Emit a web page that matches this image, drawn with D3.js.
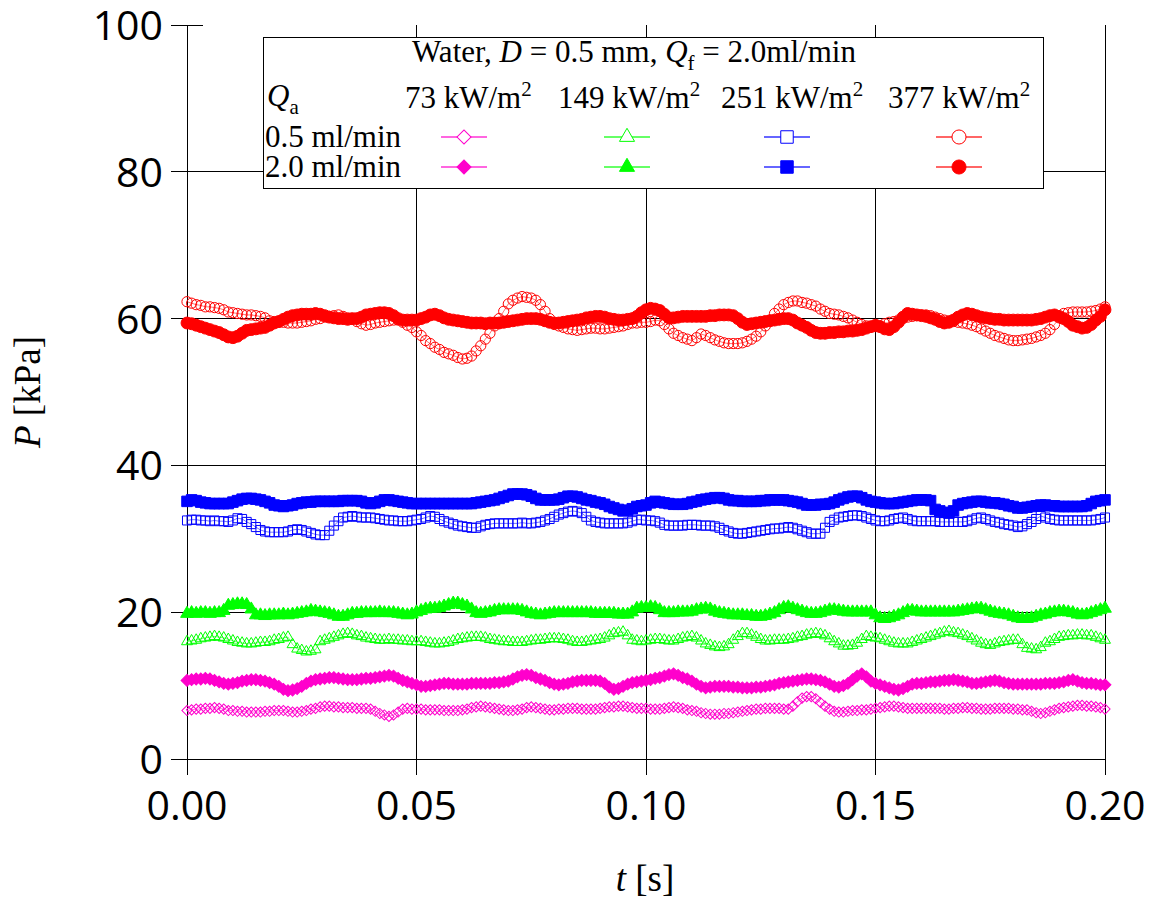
<!DOCTYPE html>
<html>
<head>
<meta charset="utf-8">
<script src="https://cdn.jsdelivr.net/npm/d3@7"></script>
<style>
    body { margin: 0; background: #fff; }
    .tickLabel { font-family: "Open Sans", sans-serif; font-size: 41px; fill: #000; }
    .axisTitle { font-family: "Liberation Serif", "Times New Roman", serif; font-size: 37px; fill: #000; }
    .legendText { font-family: "Liberation Serif", "Times New Roman", serif; font-size: 31px; fill: #000; }
    .grid { stroke: #000; stroke-width: 1; shape-rendering: crispEdges; }
</style>
</head>
<body>
<script>
//sampling interval of every series [s]
var timeStep = 0.001;

//tick values and legend texts
var xTicks = [0, 0.05, 0.10, 0.15, 0.20];
var yTicks = [0, 20, 40, 60, 80, 100];
var heatFluxLabels = ["73", "149", "251", "377"];
var flowLabels = ["0.5 ml/min", "2.0 ml/min"];

//pressure P [kPa], Qa = 0.5 ml/min, 73 kW/m2
var m05 = [
    6.6, 6.7, 6.8, 6.8, 6.9, 6.9, 7.0, 6.9, 6.8, 6.6,
    6.6, 6.5, 6.5, 6.4, 6.4, 6.4, 6.4, 6.5, 6.5, 6.6,
    6.6, 6.6, 6.5, 6.4, 6.4, 6.5, 6.6, 6.8, 6.9, 7.1,
    7.2, 7.2, 7.1, 7.1, 7.0, 7.0, 7.0, 6.9, 6.9, 6.9,
    6.8, 6.5, 6.2, 6.0, 5.8, 6.0, 6.4, 6.8, 6.9, 6.8,
    6.8, 6.8, 6.7, 6.7, 6.7, 6.7, 6.6, 6.6, 6.6, 6.6,
    6.7, 6.8, 7.0, 7.1, 7.2, 7.1, 7.0, 6.9, 6.8, 6.7,
    6.6, 6.6, 6.7, 6.8, 7.0, 7.1, 7.0, 6.9, 6.8, 6.7,
    6.7, 6.8, 6.8, 6.9, 6.9, 6.9, 6.8, 6.8, 6.8, 6.8,
    6.9, 7.0, 7.1, 7.1, 7.2, 7.2, 7.1, 7.0, 6.9, 6.9,
    6.9, 6.8, 6.8, 6.8, 6.9, 7.0, 7.1, 7.0, 6.9, 6.7,
    6.6, 6.5, 6.3, 6.2, 6.1, 6.1, 6.1, 6.2, 6.2, 6.3,
    6.4, 6.5, 6.6, 6.7, 6.8, 6.8, 6.9, 6.9, 6.9, 6.9,
    6.8, 6.8, 7.2, 7.8, 8.3, 8.5, 8.5, 8.2, 7.7, 7.2,
    6.8, 6.5, 6.4, 6.4, 6.5, 6.6, 6.6, 6.7, 6.7, 6.8,
    6.9, 7.0, 7.1, 7.2, 7.2, 7.1, 7.0, 6.9, 6.9, 6.9,
    6.9, 6.9, 6.9, 6.9, 6.9, 6.8, 6.8, 6.9, 6.9, 7.0,
    7.0, 6.9, 6.9, 6.8, 6.8, 6.8, 6.9, 6.9, 6.9, 6.9,
    6.8, 6.8, 6.7, 6.7, 6.5, 6.3, 6.2, 6.3, 6.5, 6.7,
    6.9, 7.0, 7.1, 7.2, 7.3, 7.3, 7.2, 7.2, 7.1, 7.0,
    6.8
];

//Qa = 2.0 ml/min, 73 kW/m2
var m20 = [
    10.7, 10.8, 10.9, 10.9, 11.0, 10.9, 10.7, 10.5, 10.3, 10.2,
    10.3, 10.4, 10.6, 10.7, 10.8, 10.8, 10.7, 10.6, 10.4, 10.2,
    9.9, 9.5, 9.3, 9.4, 9.6, 9.9, 10.3, 10.6, 10.8, 10.9,
    11.0, 11.1, 11.1, 11.0, 10.9, 10.8, 10.8, 10.8, 10.9, 11.0,
    11.0, 11.1, 11.2, 11.3, 11.4, 11.3, 11.0, 10.7, 10.5, 10.3,
    10.1, 9.9, 9.9, 10.0, 10.1, 10.2, 10.3, 10.3, 10.2, 10.2,
    10.2, 10.2, 10.3, 10.3, 10.3, 10.3, 10.3, 10.4, 10.4, 10.5,
    10.6, 10.9, 11.2, 11.4, 11.5, 11.4, 11.1, 10.9, 10.7, 10.4,
    10.2, 10.1, 10.2, 10.3, 10.5, 10.6, 10.7, 10.7, 10.7, 10.7,
    10.6, 10.3, 9.8, 9.5, 9.6, 9.9, 10.2, 10.4, 10.5, 10.6,
    10.7, 10.8, 11.0, 11.1, 11.3, 11.5, 11.6, 11.4, 11.1, 10.9,
    10.6, 10.2, 9.9, 9.7, 9.8, 9.9, 9.9, 9.9, 9.9, 9.8,
    9.8, 9.7, 9.7, 9.7, 9.8, 9.8, 9.9, 10.0, 10.1, 10.3,
    10.4, 10.5, 10.6, 10.7, 10.8, 10.9, 10.9, 10.8, 10.7, 10.5,
    10.2, 9.9, 9.8, 10.0, 10.3, 10.8, 11.3, 11.6, 11.2, 10.6,
    10.3, 10.1, 9.9, 9.7, 9.5, 9.4, 9.6, 9.9, 10.2, 10.3,
    10.3, 10.4, 10.5, 10.5, 10.6, 10.7, 10.7, 10.8, 10.7, 10.6,
    10.5, 10.3, 10.3, 10.4, 10.5, 10.6, 10.7, 10.6, 10.4, 10.3,
    10.2, 10.2, 10.2, 10.2, 10.2, 10.2, 10.2, 10.3, 10.3, 10.3,
    10.4, 10.5, 10.7, 10.8, 10.6, 10.4, 10.3, 10.3, 10.2, 10.1,
    10.1
];

//Qa = 0.5 ml/min, 149 kW/m2
var g05 = [
    16.0, 16.1, 16.2, 16.4, 16.5, 16.6, 16.7, 16.6, 16.5, 16.3,
    16.1, 15.9, 15.8, 15.7, 15.7, 15.8, 15.9, 15.9, 16.0, 16.2,
    16.3, 16.5, 16.6, 15.6, 15.0, 14.8, 14.6, 14.7, 14.9, 16.0,
    16.2, 16.4, 16.6, 16.8, 17.0, 17.1, 17.0, 16.8, 16.7, 16.5,
    16.4, 16.3, 16.2, 16.2, 16.3, 16.2, 16.2, 16.1, 16.1, 16.0,
    16.0, 16.0, 15.9, 15.8, 15.7, 15.7, 15.8, 15.9, 16.1, 16.3,
    16.4, 16.5, 16.6, 16.6, 16.6, 16.5, 16.3, 16.2, 16.1, 16.0,
    16.0, 15.9, 15.9, 15.9, 16.0, 16.1, 16.2, 16.2, 16.3, 16.4,
    16.4, 16.4, 16.3, 16.2, 16.0, 15.9, 15.9, 16.0, 16.1, 16.2,
    16.3, 16.5, 16.8, 17.1, 17.2, 17.3, 16.8, 16.2, 16.1, 16.0,
    16.1, 16.2, 16.3, 16.3, 16.2, 16.1, 16.1, 16.3, 16.5, 16.6,
    16.7, 16.5, 16.1, 15.7, 15.5, 15.3, 15.2, 15.3, 15.6, 16.2,
    16.7, 17.1, 17.1, 16.9, 16.6, 16.3, 16.1, 16.1, 16.2, 16.2,
    16.2, 16.3, 16.4, 16.6, 16.7, 16.9, 17.0, 17.1, 17.0, 16.8,
    16.4, 16.0, 15.7, 15.4, 15.4, 15.5, 15.8, 16.3, 16.7, 16.6,
    16.5, 16.4, 16.2, 16.0, 15.8, 15.7, 15.7, 15.7, 15.9, 16.1,
    16.3, 16.5, 16.7, 16.9, 17.1, 17.3, 17.4, 17.2, 17.1, 16.9,
    16.7, 16.4, 16.1, 15.8, 15.6, 15.5, 15.7, 15.9, 16.0, 16.1,
    16.2, 16.2, 15.6, 15.1, 15.0, 14.9, 15.2, 15.8, 16.0, 16.3,
    16.6, 16.7, 16.8, 16.8, 16.9, 16.9, 16.8, 16.8, 16.6, 16.4,
    16.2
];

//Qa = 2.0 ml/min, 149 kW/m2
var g20 = [
    19.8, 19.9, 19.8, 19.9, 19.9, 19.8, 19.9, 19.9, 20.2, 20.9,
    21.0, 21.1, 21.1, 21.0, 20.4, 19.6, 19.6, 19.5, 19.6, 19.6,
    19.6, 19.7, 19.6, 19.7, 19.8, 19.9, 20.0, 20.2, 20.1, 20.0,
    19.9, 19.8, 19.6, 19.4, 19.4, 19.6, 19.8, 19.8, 19.9, 19.9,
    19.9, 19.9, 20.0, 19.9, 19.9, 19.9, 19.8, 19.7, 19.6, 19.7,
    20.0, 20.2, 20.4, 20.5, 20.5, 20.6, 20.8, 21.0, 21.2, 21.2,
    21.0, 20.8, 20.4, 19.9, 19.8, 19.9, 20.0, 20.2, 20.3, 20.3,
    20.3, 20.3, 20.3, 20.2, 20.0, 19.8, 19.7, 19.6, 19.7, 19.8,
    19.9, 19.9, 19.9, 19.9, 19.9, 19.9, 19.9, 19.9, 19.9, 19.8,
    19.8, 19.8, 19.8, 19.8, 19.7, 19.7, 19.7, 20.0, 20.5, 20.6,
    20.6, 20.7, 20.6, 20.3, 19.9, 19.9, 19.9, 20.0, 20.0, 20.0,
    20.1, 20.3, 20.4, 20.5, 20.4, 20.1, 19.9, 19.8, 19.7, 19.6,
    19.6, 19.6, 19.5, 19.5, 19.4, 19.4, 19.5, 19.7, 19.9, 20.3,
    20.6, 20.7, 20.5, 20.3, 20.1, 19.9, 19.8, 19.8, 19.9, 20.1,
    20.3, 20.3, 20.2, 20.1, 20.0, 20.0, 20.0, 20.0, 20.0, 20.0,
    19.6, 19.2, 19.1, 19.2, 19.4, 19.6, 19.9, 20.2, 20.2, 20.1,
    20.0, 20.0, 20.0, 20.0, 20.0, 20.0, 20.0, 20.0, 20.1, 20.2,
    20.3, 20.4, 20.5, 20.5, 20.3, 20.1, 19.9, 19.8, 19.7, 19.6,
    19.4, 19.2, 19.1, 19.1, 19.2, 19.4, 19.6, 19.7, 19.9, 20.0,
    20.1, 20.1, 20.0, 19.9, 19.7, 19.6, 19.7, 19.9, 20.1, 20.3,
    20.5
];

//Qa = 0.5 ml/min, 251 kW/m2
var b05 = [
    32.5, 32.6, 32.6, 32.5, 32.5, 32.4, 32.5, 32.4, 32.4, 32.3,
    32.5, 32.8, 32.7, 32.3, 32.0, 31.6, 31.2, 31.0, 30.9, 30.9,
    30.9, 30.9, 31.0, 31.2, 31.3, 31.2, 31.0, 30.8, 30.6, 30.5,
    30.5, 31.1, 31.8, 32.4, 32.9, 33.0, 33.1, 33.0, 32.9, 32.9,
    32.9, 32.8, 32.7, 32.6, 32.5, 32.5, 32.4, 32.4, 32.4, 32.5,
    32.6, 32.7, 32.9, 33.1, 33.0, 32.7, 32.4, 32.2, 32.0, 31.8,
    31.7, 31.6, 31.5, 31.5, 31.7, 31.9, 32.0, 32.1, 32.1, 32.1,
    32.1, 32.1, 32.1, 32.2, 32.1, 32.1, 32.2, 32.3, 32.5, 32.7,
    33.0, 33.3, 33.5, 33.7, 33.8, 33.7, 33.5, 33.0, 32.5, 32.3,
    32.2, 32.1, 32.1, 32.1, 32.1, 32.1, 32.2, 32.4, 32.6, 32.6,
    32.5, 32.5, 32.4, 32.2, 31.9, 31.8, 31.8, 31.8, 31.8, 31.9,
    31.9, 31.9, 31.8, 31.8, 31.8, 31.7, 31.5, 31.2, 31.0, 30.8,
    30.7, 30.7, 30.8, 30.9, 31.0, 31.1, 31.2, 31.3, 31.4, 31.4,
    31.5, 31.6, 31.5, 31.3, 31.1, 30.9, 30.7, 30.7, 30.7, 31.5,
    32.3, 32.6, 32.9, 33.0, 33.1, 33.2, 33.2, 33.1, 32.9, 32.7,
    32.5, 32.4, 32.4, 32.5, 32.7, 32.8, 32.9, 32.7, 32.5, 32.4,
    32.4, 32.4, 32.4, 32.4, 32.3, 32.3, 32.3, 32.3, 32.3, 32.3,
    32.4, 32.6, 32.8, 32.9, 32.7, 32.5, 32.3, 32.2, 32.0, 31.9,
    31.8, 31.6, 31.7, 32.0, 32.3, 32.7, 33.1, 32.9, 32.7, 32.6,
    32.5, 32.5, 32.5, 32.5, 32.5, 32.5, 32.5, 32.5, 32.6, 32.7,
    32.9
];

//Qa = 2.0 ml/min, 251 kW/m2
var b20 = [
    35.1, 35.3, 35.2, 35.0, 34.9, 34.8, 34.8, 34.8, 34.8, 34.8,
    35.0, 35.2, 35.4, 35.5, 35.5, 35.4, 35.3, 35.1, 34.9, 34.6,
    34.5, 34.4, 34.5, 34.6, 34.8, 34.9, 35.0, 35.0, 35.1, 35.1,
    35.1, 35.1, 35.1, 35.1, 35.2, 35.2, 35.2, 35.2, 35.1, 34.9,
    34.8, 34.9, 35.1, 35.3, 35.3, 35.2, 35.1, 35.0, 34.9, 34.8,
    34.8, 34.8, 34.8, 34.8, 34.8, 34.8, 34.8, 34.8, 34.8, 34.8,
    34.8, 34.8, 34.8, 34.9, 35.0, 35.1, 35.2, 35.3, 35.5, 35.7,
    35.9, 36.1, 36.1, 36.1, 36.0, 35.8, 35.5, 35.3, 35.3, 35.3,
    35.3, 35.4, 35.6, 35.8, 35.8, 35.7, 35.5, 35.3, 35.2, 35.0,
    34.9, 34.7, 34.4, 34.2, 34.0, 33.8, 33.9, 34.1, 34.4, 34.5,
    34.6, 34.9, 35.1, 35.0, 34.9, 34.8, 34.7, 34.7, 34.7, 34.8,
    35.0, 35.1, 35.3, 35.4, 35.5, 35.6, 35.6, 35.5, 35.3, 35.2,
    35.2, 35.1, 35.1, 35.1, 35.1, 35.2, 35.2, 35.3, 35.3, 35.3,
    35.3, 35.2, 35.1, 35.0, 34.8, 34.6, 34.6, 34.6, 34.7, 34.7,
    34.8, 35.0, 35.3, 35.5, 35.7, 35.8, 35.8, 35.6, 35.3, 35.1,
    35.0, 34.9, 34.8, 34.8, 34.8, 34.9, 35.0, 35.1, 35.2, 35.3,
    35.3, 35.3, 35.2, 34.0, 33.8, 33.6, 33.5, 33.8, 34.6, 34.8,
    34.9, 35.0, 35.1, 35.1, 35.0, 34.9, 34.9, 34.8, 34.7, 34.5,
    34.4, 34.2, 34.2, 34.3, 34.4, 34.5, 34.6, 34.6, 34.5, 34.5,
    34.4, 34.4, 34.4, 34.4, 34.4, 34.4, 34.5, 34.8, 35.1, 35.2,
    35.3
];

//Qa = 0.5 ml/min, 377 kW/m2
var r05 = [
    62.3, 62.1, 61.9, 61.8, 61.6, 61.6, 61.5, 61.4, 61.2, 60.9,
    60.8, 60.7, 60.6, 60.5, 60.5, 60.4, 60.3, 60.1, 59.7, 59.6,
    59.5, 59.5, 59.4, 59.4, 59.4, 59.5, 59.6, 59.7, 59.9, 60.0,
    60.2, 60.3, 60.4, 60.5, 60.3, 60.1, 59.9, 59.6, 59.3, 59.1,
    59.2, 59.4, 59.5, 59.6, 59.7, 59.8, 59.8, 59.5, 59.1, 58.8,
    58.2, 57.7, 57.0, 56.6, 56.1, 55.8, 55.4, 55.2, 55.0, 54.7,
    54.5, 54.6, 54.9, 55.6, 56.3, 57.2, 58.0, 59.0, 60.0, 61.0,
    62.0, 62.5, 62.8, 63.0, 62.9, 62.8, 62.5, 61.9, 61.0, 60.0,
    59.2, 59.0, 58.8, 58.6, 58.5, 58.4, 58.5, 58.6, 58.7, 58.7,
    58.6, 58.6, 58.7, 58.8, 58.9, 59.0, 59.2, 59.4, 59.4, 59.5,
    59.5, 59.6, 59.8, 59.7, 59.2, 58.6, 58.0, 57.7, 57.4, 57.2,
    57.0, 57.4, 57.9, 57.7, 57.4, 57.1, 56.9, 56.7, 56.6, 56.6,
    56.6, 56.7, 56.9, 57.2, 57.6, 58.2, 59.0, 59.8, 60.7, 61.3,
    61.9, 62.2, 62.4, 62.4, 62.2, 62.1, 61.9, 61.7, 61.3, 61.0,
    60.7, 60.6, 60.5, 60.3, 60.1, 59.8, 59.5, 59.2, 59.0, 58.9,
    58.9, 59.0, 59.3, 59.5, 59.6, 59.8, 60.0, 60.2, 60.3, 60.4,
    60.5, 60.5, 60.4, 60.2, 60.0, 59.8, 59.7, 59.6, 59.5, 59.4,
    59.3, 59.1, 58.9, 58.6, 58.3, 58.0, 57.7, 57.5, 57.3, 57.1,
    57.0, 57.0, 57.1, 57.2, 57.3, 57.5, 57.7, 58.0, 58.5, 59.2,
    60.1, 60.7, 60.8, 60.9, 60.9, 60.9, 60.9, 61.0, 61.1, 61.3,
    61.6
];

//Qa = 2.0 ml/min, 377 kW/m2
var r20 = [
    59.4, 59.3, 59.1, 58.9, 58.7, 58.5, 58.3, 58.1, 57.8, 57.5,
    57.4, 57.6, 58.0, 58.4, 58.5, 58.6, 58.7, 58.8, 59.1, 59.4,
    59.6, 59.9, 60.2, 60.4, 60.5, 60.6, 60.6, 60.6, 60.7, 60.6,
    60.4, 60.2, 60.1, 60.0, 60.0, 59.9, 60.0, 60.0, 60.2, 60.5,
    60.6, 60.7, 60.8, 60.8, 60.7, 60.4, 60.0, 59.8, 59.8, 59.8,
    59.8, 60.0, 60.2, 60.5, 60.6, 60.4, 60.1, 59.9, 59.8, 59.7,
    59.6, 59.5, 59.4, 59.4, 59.4, 59.3, 59.4, 59.4, 59.4, 59.5,
    59.6, 59.7, 59.8, 59.9, 60.0, 60.0, 60.0, 59.9, 59.7, 59.5,
    59.4, 59.4, 59.5, 59.6, 59.7, 59.8, 59.9, 60.1, 60.2, 60.3,
    60.3, 60.2, 60.0, 59.9, 59.8, 59.8, 59.9, 60.0, 60.3, 60.8,
    61.2, 61.4, 61.3, 61.1, 60.6, 60.1, 60.1, 60.2, 60.3, 60.3,
    60.3, 60.3, 60.3, 60.3, 60.4, 60.4, 60.5, 60.5, 60.5, 60.4,
    60.0, 59.5, 59.2, 59.3, 59.4, 59.5, 59.6, 59.7, 59.8, 59.9,
    60.0, 60.0, 59.8, 59.4, 59.1, 58.8, 58.4, 58.1, 58.0, 58.0,
    58.1, 58.1, 58.2, 58.2, 58.3, 58.3, 58.4, 58.5, 58.7, 58.9,
    59.1, 58.9, 58.6, 58.5, 58.9, 59.5, 60.2, 60.7, 60.6, 60.5,
    60.4, 60.3, 60.1, 59.9, 59.6, 59.4, 59.5, 59.8, 60.2, 60.5,
    60.7, 60.6, 60.4, 60.2, 60.1, 60.0, 59.9, 59.9, 59.8, 59.8,
    59.8, 59.8, 59.8, 59.8, 59.8, 59.9, 60.0, 60.2, 60.4, 60.5,
    60.3, 60.0, 59.6, 59.1, 58.9, 58.7, 58.8, 59.2, 59.8, 60.3,
    61.2
];

(function(){

    //begin script when window loads
    window.onload = setChart();

    function setChart(){

        //frame and plot area
        var width = 1159,
            height = 902,
            plotLeft = 187,
            plotRight = 1105,
            plotTop = 25,
            plotBottom = 759,
            tickLen = 16;

        var svg = d3.select("body")
            .append("svg")
            .attr("width", width)
            .attr("height", height);

        var xScale = d3.scaleLinear()
            .domain([0, 0.2])
            .range([plotLeft, plotRight]);

        var yScale = d3.scaleLinear()
            .domain([0, 100])
            .range([plotBottom, plotTop]);

        //series: value array, colour, marker, open or filled
        var series = [
            { values: m05, color: "#ff00cc", shape: "diamond", filled: false },
            { values: m20, color: "#ff00cc", shape: "diamond", filled: true },
            { values: g05, color: "#00ff00", shape: "triangle", filled: false },
            { values: g20, color: "#00ff00", shape: "triangle", filled: true },
            { values: b05, color: "#0000ff", shape: "square", filled: false },
            { values: b20, color: "#0000ff", shape: "square", filled: true },
            { values: r20, color: "#ff0000", shape: "circle", filled: true },
            { values: r05, color: "#ff0000", shape: "circle", filled: false }
        ];

        drawGrid(svg, xScale, yScale, plotLeft, plotRight, tickLen);

        series.forEach(function(s){
            drawSeries(svg, s, xScale, yScale);
        });

        drawAxisText(svg, xScale, yScale, plotLeft);

        drawLegend(svg, series);
    };

    //marker path for one symbol type, k scales the area
    function markerPath(shape, filled, k){
        var boost = filled ? 1.35 : 1;
        var sizes = { diamond: 52, triangle: 52, square: 82, circle: 82 };
        var types = { diamond: d3.symbolSquare, triangle: d3.symbolTriangle,
                      square: d3.symbolSquare, circle: d3.symbolCircle };
        return d3.symbol()
            .type(types[shape])
            .size(sizes[shape] * boost * (k || 1))();
    };

    function markerTransform(shape, x, y){
        var t = "translate(" + x + "," + y + ")";
        if (shape == "diamond") t += " rotate(45)";
        return t;
    };

    function drawGrid(svg, xScale, yScale, plotLeft, plotRight, tickLen){
        //horizontal lines, the top one is only a tick
        svg.selectAll(".hGrid")
            .data(yTicks)
            .enter()
            .append("line")
            .attr("class", "grid hGrid")
            .attr("x1", plotLeft - tickLen)
            .attr("x2", function(d){
                return d == 100 ? plotLeft + tickLen : plotRight;
            })
            .attr("y1", function(d){ return yScale(d); })
            .attr("y2", function(d){ return yScale(d); });

        //vertical lines, running through the bottom axis as ticks
        svg.selectAll(".vGrid")
            .data(xTicks)
            .enter()
            .append("line")
            .attr("class", "grid vGrid")
            .attr("x1", function(d){ return xScale(d); })
            .attr("x2", function(d){ return xScale(d); })
            .attr("y1", yScale(100))
            .attr("y2", yScale(0) + tickLen);
    };

    function drawSeries(svg, s, xScale, yScale){
        var g = svg.append("g");

        var line = d3.line()
            .x(function(d, i){ return xScale(i * timeStep); })
            .y(function(d){ return yScale(d); });

        g.append("path")
            .datum(s.values)
            .attr("d", line)
            .style("fill", "none")
            .style("stroke", s.color)
            .style("stroke-opacity", 0.55)
            .style("stroke-width", 1);

        var path = markerPath(s.shape, s.filled);

        g.selectAll(".marker")
            .data(s.values)
            .enter()
            .append("path")
            .attr("class", "marker")
            .attr("d", path)
            .attr("transform", function(d, i){
                return markerTransform(s.shape, xScale(i * timeStep), yScale(d));
            })
            .style("fill", s.filled ? s.color : "none")
            .style("stroke", s.color)
            .style("stroke-width", 1);
    };

    function drawAxisText(svg, xScale, yScale, plotLeft){
        svg.selectAll(".yLabel")
            .data(yTicks)
            .enter()
            .append("text")
            .attr("class", "tickLabel")
            .attr("text-anchor", "end")
            .attr("x", plotLeft - 24)
            .attr("y", function(d){ return yScale(d) + 15; })
            .text(function(d){ return d; });

        svg.selectAll(".xLabel")
            .data(xTicks)
            .enter()
            .append("text")
            .attr("class", "tickLabel")
            .attr("text-anchor", "middle")
            .attr("x", function(d){ return xScale(d); })
            .attr("y", 820)
            .text(function(d){ return d3.format(".2f")(d); });

        //axis titles
        var xTitle = svg.append("text")
            .attr("class", "axisTitle")
            .attr("text-anchor", "middle")
            .attr("x", 645)
            .attr("y", 891);
        xTitle.append("tspan").style("font-style", "italic").text("t");
        xTitle.append("tspan").text(" [s]");

        var yTitle = svg.append("text")
            .attr("class", "axisTitle")
            .attr("text-anchor", "middle")
            .attr("transform", "translate(40,392) rotate(-90)");
        yTitle.append("tspan").style("font-style", "italic").text("P");
        yTitle.append("tspan").text(" [kPa]");
    };

    function drawLegend(svg, series){
        var box = svg.append("g").attr("class", "legend");

        box.append("rect")
            .attr("x", 263)
            .attr("y", 37)
            .attr("width", 780)
            .attr("height", 151)
            .style("fill", "#fff")
            .style("stroke", "#000")
            .style("stroke-width", 1)
            .style("shape-rendering", "crispEdges");

        //title line
        var title = box.append("text")
            .attr("class", "legendText")
            .attr("text-anchor", "middle")
            .attr("x", 634)
            .attr("y", 62);
        title.append("tspan").text("Water, ");
        title.append("tspan").style("font-style", "italic").text("D");
        title.append("tspan").text(" = 0.5 mm, ");
        title.append("tspan").style("font-style", "italic").text("Q");
        title.append("tspan").attr("dy", 8).style("font-size", "21px").text("f");
        title.append("tspan").attr("dy", -8).text(" = 2.0ml/min");

        //Qa header
        var qa = box.append("text")
            .attr("class", "legendText")
            .attr("x", 267)
            .attr("y", 106);
        qa.append("tspan").style("font-style", "italic").text("Q");
        qa.append("tspan").attr("dy", 8).style("font-size", "21px").text("a");

        //heat flux column headers
        var colX = [405, 558, 721, 888];
        var markX = [464, 627, 787, 959];

        heatFluxLabels.forEach(function(lab, i){
            var t = box.append("text")
                .attr("class", "legendText")
                .attr("x", colX[i])
                .attr("y", 108);
            t.append("tspan").text(lab + " kW/m");
            t.append("tspan").attr("dy", -12).style("font-size", "21px").text("2");
        });

        //flow rate row labels
        var rowY = [137, 167];
        flowLabels.forEach(function(lab, j){
            box.append("text")
                .attr("class", "legendText")
                .attr("x", 265)
                .attr("y", rowY[j] + 10)
                .text(lab);
        });

        //sample line and marker for each series
        series.forEach(function(s){
            var col = ["diamond", "triangle", "square", "circle"].indexOf(s.shape);
            var row = s.filled ? 1 : 0;
            var cx = markX[col], cy = rowY[row];

            box.append("line")
                .attr("x1", cx - 23)
                .attr("x2", cx + 23)
                .attr("y1", cy)
                .attr("y2", cy)
                .style("stroke", s.color)
                .style("stroke-opacity", 0.6)
                .style("stroke-width", 2);

            box.append("path")
                .attr("d", markerPath(s.shape, false, 1.9))
                .attr("transform", markerTransform(s.shape, cx, cy))
                .style("fill", s.filled ? s.color : "#fff")
                .style("stroke", s.color)
                .style("stroke-width", 1);
        });
    };

})();
</script>
</body>
</html>
